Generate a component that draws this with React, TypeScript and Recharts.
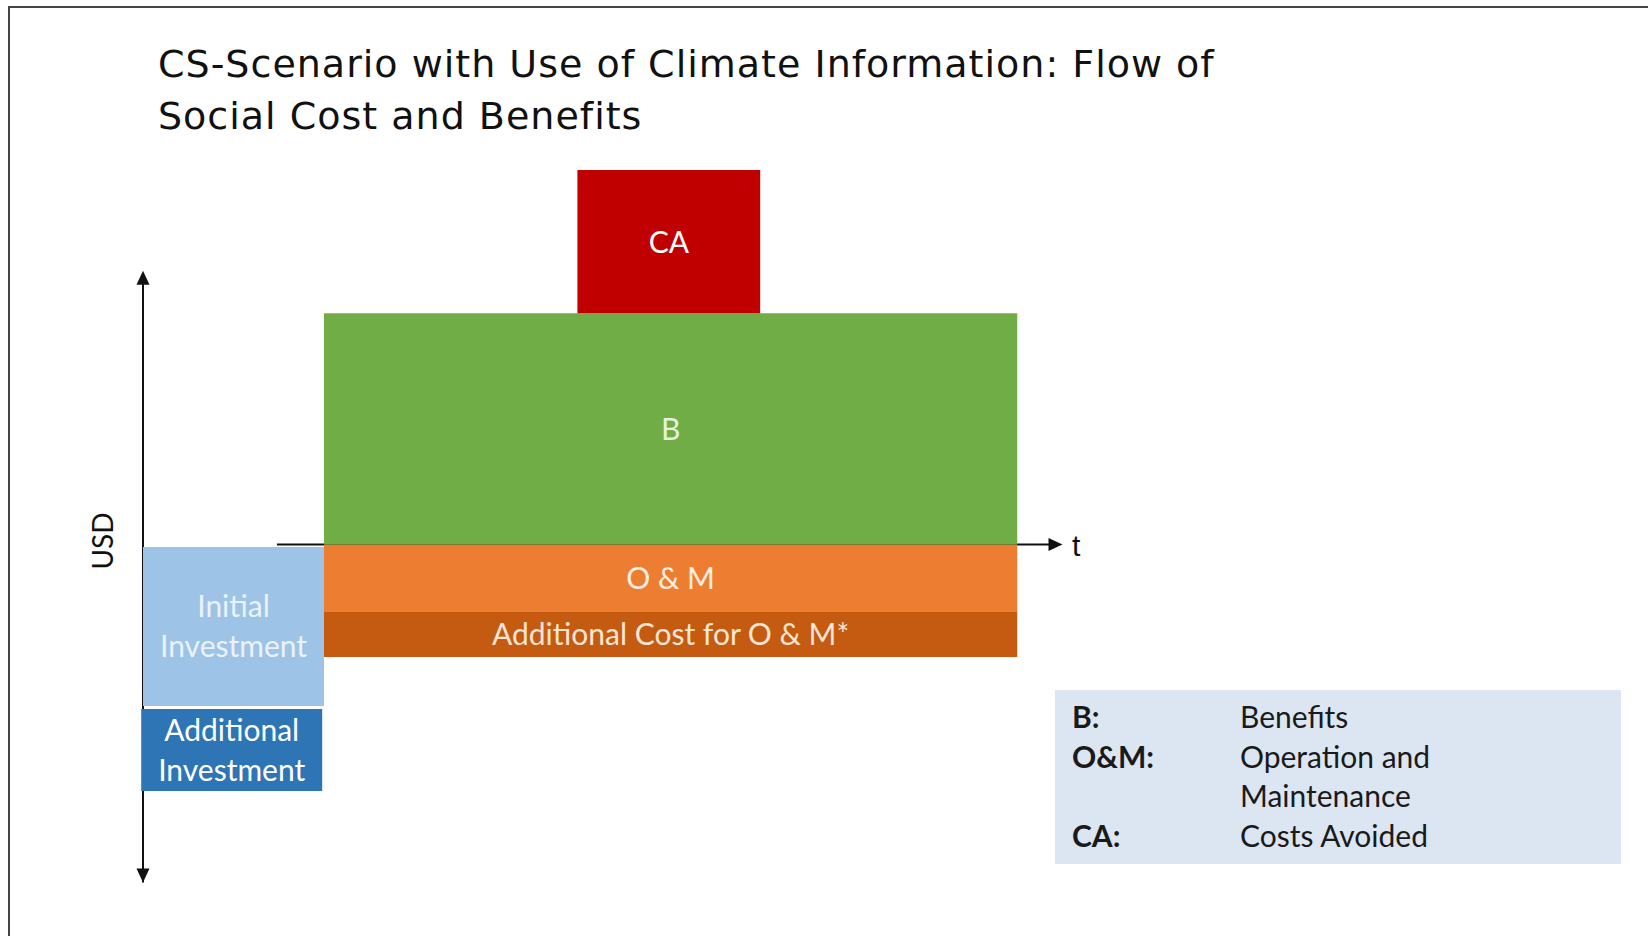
import { ComposedChart, XAxis, YAxis, ReferenceArea, ReferenceLine } from 'recharts'

// blocks of the cash flow diagram (t in periods, values in USD units)
const blockNames = ['Initial Investment', 'Additional Investment', 'O & M', 'Additional Cost for O & M*', 'B', 'CA']
const blockLabels = [['Initial', 'Investment'], ['Additional', 'Investment'], ['O & M'], ['Additional Cost for O & M*'], ['B'], ['CA']]
const tStart = [0, -0.01, 1, 1, 1, 2.4]
const tEnd = [1, 0.99, 4.83, 4.83, 4.83, 3.41]
const usdLow = [-7.02, -10.72, -2.93, -4.89, 0, 10.05]
const usdHigh = [-0.11, -7.15, 0, -2.93, 10.05, 16.28]

const legendKeys = ['B:', 'O&M:', '', 'CA:']
const legendText = ['Benefits', 'Operation and', 'Maintenance', 'Costs Avoided']

const titleLines = ['CS-Scenario with Use of Climate Information: Flow of', 'Social Cost and Benefits']

const blockFill: Record<string, string> = {
  'Initial Investment': '#9dc3e6',
  'Additional Investment': '#2e75b6',
  'O & M': '#ed7d31',
  'Additional Cost for O & M*': '#c55a11',
  B: '#70ad47',
  CA: '#c00000',
}
const blockText: Record<string, string> = {
  'Initial Investment': '#eaf2fb',
  'Additional Investment': '#ffffff',
  'O & M': '#fdeee3',
  'Additional Cost for O & M*': '#fbe5d6',
  B: '#e6f2de',
  CA: '#ffffff',
}

const W = 1648
const H = 936
const T_PX = 181
const T_ORIGIN = 143
const USD_PX = 23
const USD_ZERO = 544.5
const tDomain: [number, number] = [-0.2, 5.1]
const usdDomain: [number, number] = [-15, 16.5]

const margin = {
  left: T_ORIGIN + tDomain[0] * T_PX,
  right: W - (T_ORIGIN + tDomain[1] * T_PX),
  top: USD_ZERO - usdDomain[1] * USD_PX,
  bottom: H - (USD_ZERO - usdDomain[0] * USD_PX),
}

const sans = 'Lato, "Open Sans", sans-serif'

function Arrow(props: any) {
  const { x1, y1, x2, y2, both } = props
  const dx = x2 - x1
  const dy = y2 - y1
  const len = Math.sqrt(dx * dx + dy * dy)
  const ux = dx / len
  const uy = dy / len
  const head = (px: number, py: number, dirx: number, diry: number) => {
    const bx = px - dirx * 14
    const by = py - diry * 14
    const nx = -diry * 6.5
    const ny = dirx * 6.5
    return `${px},${py} ${bx + nx},${by + ny} ${bx - nx},${by - ny}`
  }
  return (
    <g>
      <line x1={x1} y1={y1} x2={x2 - ux * 10} y2={y2 - uy * 10} stroke="#111" strokeWidth={2} />
      <polygon points={head(x2, y2, ux, uy)} fill="#111" />
      {both && <polygon points={head(x1, y1, -ux, -uy)} fill="#111" />}
    </g>
  )
}

function BoxLabel(props: any) {
  const { viewBox, lines, color } = props
  if (!viewBox) return null
  const { x, y, width, height } = viewBox
  const cx = x + width / 2
  const cy = y + height / 2
  const lh = 40
  return (
    <text textAnchor="middle" fill={color} fontFamily={sans} fontSize={30}>
      {lines.map((l: string, i: number) => (
        <tspan key={i} x={cx} y={cy + 11 + (i - (lines.length - 1) / 2) * lh}>
          {l}
        </tspan>
      ))}
    </text>
  )
}

export default function App() {
  return (
    <div style={{ position: 'absolute', left: 0, top: 0, width: W, height: H, background: '#fff', overflow: 'hidden' }}>
      <div
        style={{
          position: 'absolute',
          left: 8,
          top: 6,
          width: W,
          height: H,
          borderTop: '2px solid #444',
          borderLeft: '2px solid #444',
        }}
      />
      <div style={{ position: 'absolute', left: 0, top: 0 }}>
        <ComposedChart width={W} height={H} margin={margin}>
          <XAxis type="number" dataKey="t" domain={tDomain} allowDataOverflow hide />
          <YAxis type="number" domain={usdDomain} allowDataOverflow hide />
          <ReferenceLine
            segment={[{ x: 0, y: -14.7 }, { x: 0, y: 11.9 }]}
            zIndex={50}
            shape={(p: any) => <Arrow {...p} both />}
          />
          <ReferenceLine
            segment={[{ x: 0.74, y: 0 }, { x: 5.08, y: 0 }]}
            zIndex={50}
            shape={(p: any) => <Arrow {...p} />}
          />
          {blockNames.map((name, i) => (
            <ReferenceArea
              key={name}
              x1={tStart[i]}
              x2={tEnd[i]}
              y1={usdLow[i]}
              y2={usdHigh[i]}
              fill={blockFill[name]}
              fillOpacity={1}
              stroke="none"
              ifOverflow="visible"
              zIndex={100}
              label={<BoxLabel lines={blockLabels[i]} color={blockText[name]} />}
            />
          ))}
        </ComposedChart>
      </div>
      <svg width={W} height={H} style={{ position: 'absolute', left: 0, top: 0, pointerEvents: 'none' }}>
        {titleLines.map((line, i) => (
          <text
            key={i}
            x={158}
            y={77 + i * 52}
            fontFamily='"DejaVu Sans", sans-serif'
            fontSize={38}
            letterSpacing={1}
            fill="#111"
          >
            {line}
          </text>
        ))}
        <text transform="translate(113,541) rotate(-90)" textAnchor="middle" fontFamily={sans} fontSize={28} fill="#111">
          USD
        </text>
        <text x={1072} y={556} fontFamily='"Liberation Sans", sans-serif' fontSize={30} fill="#111">
          t
        </text>
        <rect x={1055} y={690} width={566} height={174} fill="#dce6f2" />
        {legendText.map((txt, i) => (
          <g key={i} fontFamily={sans} fontSize={30} fill="#1a1a1a">
            <text x={1072} y={728 + i * 39.5} fontWeight={700}>
              {legendKeys[i]}
            </text>
            <text x={1240} y={728 + i * 39.5}>
              {txt}
            </text>
          </g>
        ))}
      </svg>
    </div>
  )
}
